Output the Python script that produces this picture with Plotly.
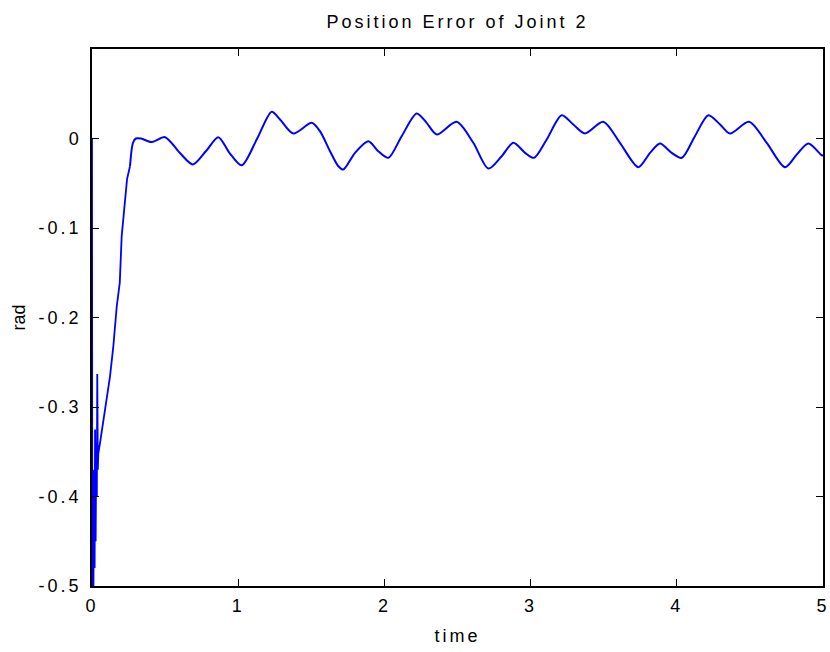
import plotly.graph_objects as go

# Transient (start-up) part of the error signal
t_transient = [0.0, 0.002, 0.006, 0.010, 0.014, 0.018, 0.021, 0.025, 0.029, 0.033,
               0.036, 0.040, 0.043, 0.055, 0.077, 0.100, 0.123, 0.146, 0.169, 0.190,
               0.203, 0.214, 0.226, 0.240, 0.260]
e_transient = [0.0, -0.5, -0.40, -0.5, -0.37, -0.48, -0.325, -0.45, -0.34, -0.40,
               -0.263, -0.37, -0.352, -0.340, -0.316, -0.292, -0.266, -0.232, -0.188, -0.161,
               -0.109, -0.090, -0.068, -0.045, -0.031]

# Steady oscillating part
t_steady = [0.260, 0.280, 0.300, 0.335, 0.41, 0.50, 0.60, 0.69, 0.78, 0.864,
            0.94, 1.024, 1.13, 1.229, 1.286, 1.377, 1.503, 1.559, 1.628, 1.685,
            1.719, 1.799, 1.890, 1.958, 2.027, 2.118, 2.221, 2.289, 2.358, 2.494,
            2.608, 2.711, 2.802, 2.882, 2.962, 3.023, 3.110, 3.213, 3.292, 3.372,
            3.497, 3.611, 3.737, 3.817, 3.885, 3.965, 4.034, 4.124, 4.216, 4.296,
            4.364, 4.494, 4.615, 4.740, 4.820, 4.900, 4.991, 5.0]
e_steady = [-0.031, -0.005, 0.0, 0.0, -0.004, 0.0015, -0.016, -0.029, -0.014, 0.0015,
            -0.016, -0.030, 0.0, 0.030, 0.0213, 0.0056, 0.0175, 0.0082, -0.0142, -0.031,
            -0.0347, -0.016, -0.003, -0.0142, -0.0216, 0.0026, 0.028, 0.0175, 0.0045, 0.0187,
            -0.0048, -0.0336, -0.0198, -0.0048, -0.016, -0.0216, -0.0011, 0.026, 0.0157, 0.0056,
            0.0187, -0.0048, -0.032, -0.016, -0.0056, -0.016, -0.0216, 0.0026, 0.026, 0.0157,
            0.0056, 0.0187, -0.0048, -0.032, -0.018, -0.0056, -0.0187, -0.019]

x_ticks = [0, 1, 2, 3, 4, 5]
x_labels = ["0", "1", "2", "3", "4", "5"]
y_ticks = [-0.5, -0.4, -0.3, -0.2, -0.1, 0]
y_labels = ["-0.5", "-0.4", "-0.3", "-0.2", "-0.1", "0"]

FONT = "Liberation Sans, Arial, sans-serif"
BLUE = "#0000ff"

fig = go.Figure()
fig.add_trace(go.Scatter(x=t_transient, y=e_transient, mode="lines",
                         line=dict(color=BLUE, width=1.8), showlegend=False))
fig.add_trace(go.Scatter(x=t_steady, y=e_steady, mode="lines",
                         line=dict(color=BLUE, width=2, shape="spline", smoothing=0.8),
                         showlegend=False))

axis_common = dict(showline=True, linecolor="black", linewidth=1.5, mirror="allticks",
                   ticks="inside", ticklen=7, tickwidth=1, tickcolor="black",
                   showgrid=False, zeroline=False, automargin=False,
                   ticklabeloverflow="allow",
                   tickfont=dict(family=FONT, size=18, color="black"))

fig.update_xaxes(range=[0, 5], tickvals=x_ticks, ticktext=x_labels,
                 title=dict(text="time", font=dict(family=FONT, size=18, color="black"), standoff=14),
                 ticklabelstandoff=3, **axis_common)
fig.update_yaxes(range=[-0.5, 0.1], tickvals=y_ticks, ticktext=y_labels,
                 title=dict(text="rad", font=dict(family=FONT, size=18, color="black"), standoff=20),
                 ticklabelstandoff=5, **axis_common)

fig.update_layout(
    width=830, height=652,
    margin=dict(l=92, r=7, t=49, b=66),
    paper_bgcolor="white", plot_bgcolor="white",
    title=dict(text="Position Error of Joint 2", x=0.5, xanchor="center", xref="paper",
               y=1 - 22 / 652, yanchor="middle",
               font=dict(family=FONT, size=18, color="black")),
)

post_js = (
    "document.body.style.margin='0';"
    "var root=document.getElementById('{plot_id}');"
    "root.querySelectorAll('.gtitle, .xtick text, .ytick text, .xtitle')"
    ".forEach(function(el){el.style.letterSpacing='3px';});"
)

fig.write_html("out.html", post_script=post_js, config={"displayModeBar": False})
